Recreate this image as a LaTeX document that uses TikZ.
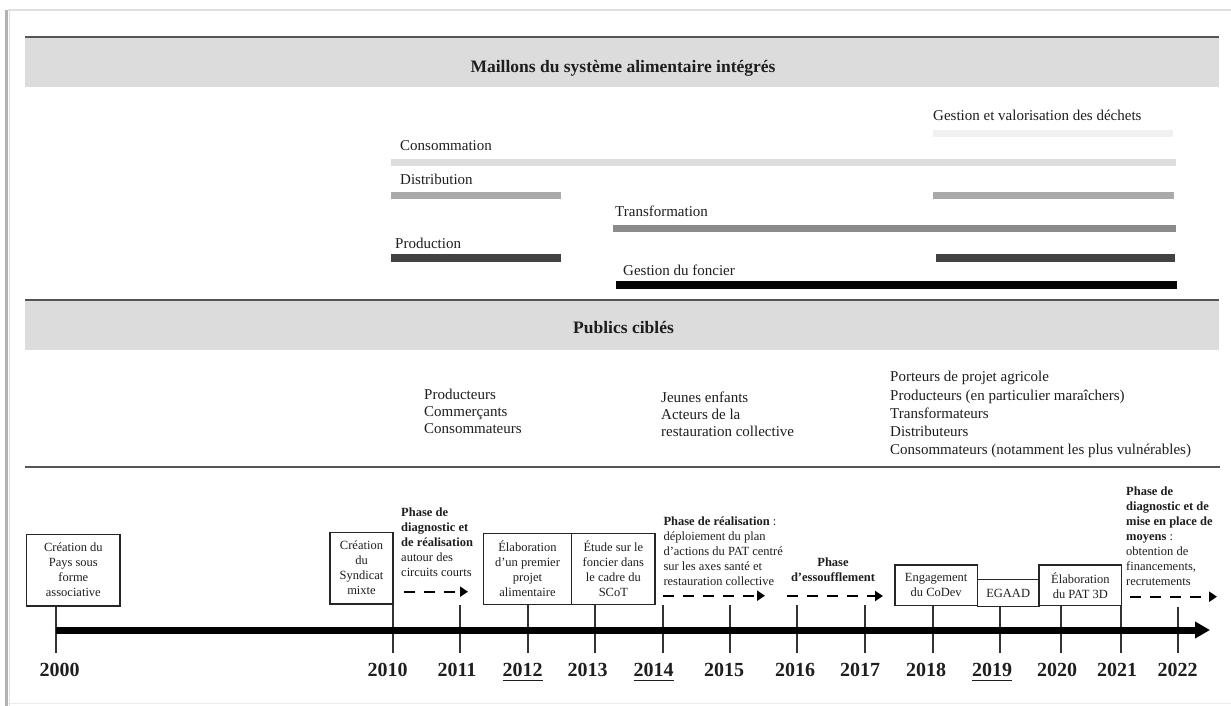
\documentclass[tikz,border=0pt]{standalone}
\usepackage{fontspec}
\setmainfont{Liberation Serif}
\usetikzlibrary{arrows.meta}
\definecolor{bandgray}{HTML}{DCDCDC}
\definecolor{linegray}{HTML}{555555}
\definecolor{txt}{HTML}{1E1E1E}
\definecolor{barA}{HTML}{F1F1F1}
\definecolor{barB}{HTML}{DDDDDD}
\definecolor{barC}{HTML}{A9A9A9}
\definecolor{barD}{HTML}{8A8A8A}
\definecolor{barE}{HTML}{424242}
\definecolor{barF}{HTML}{050505}
\newcommand{\mylines}[2][l]{\begin{tabular}[t]{@{}#1@{}}#2\end{tabular}}
\newcommand{\myul}[1]{\setbox0\hbox{#1}\rlap{\rule[-4.6pt]{\wd0}{1.8pt}}#1}
\tikzset{
  bandfill/.style={fill=bandgray, draw=none},
  bandline/.style={draw=linegray, line width=2pt},
  bartitle/.style={font=\bfseries\fontsize{17.5}{20}\selectfont, anchor=base, inner sep=0pt, text=txt},
  barlbl/.style={font=\fontsize{15}{17}\selectfont, anchor=base west, inner sep=0pt, text=txt},
  barline/.style={line width=7pt},
  publbl/.style={font=\fontsize{15}{17.3}\selectfont, anchor=base west, inner sep=0pt, text=txt},
  publblw/.style={font=\fontsize{15}{18.3}\selectfont, anchor=base west, inner sep=0pt, text=txt},
  evbox/.style={draw=black!85, line width=1.4pt, inner sep=0pt, align=center,
    font=\fontsize{12.5}{15}\selectfont, text=txt},
  phasetxt/.style={font=\fontsize{12.5}{15}\selectfont, anchor=base west, inner sep=0pt, text=txt},
  yearlbl/.style={font=\bfseries\fontsize{20}{24}\selectfont, anchor=base, inner sep=0pt, text=txt},
  tickline/.style={draw=black!80, line width=1.8pt},
  axisline/.style={draw=black, line width=7pt, -{Triangle[length=15pt,width=16pt]}},
  dasharrow/.style={draw=black, line width=2pt, dash pattern=on 11pt off 9pt,
    -{Triangle[length=8pt,width=10pt]}},
}
\begin{document}
\begin{tikzpicture}[x=1pt,y=-1pt]
\useasboundingbox (0,0) rectangle (1231,706);
\fill[white] (0,0) rectangle (1231,706);
% page frame
\draw[black!12, line width=1.5pt] (8,10) -- (1231,10);
\draw[black!30, line width=3pt] (6.5,10) -- (6.5,706);
\draw[black!12, line width=1pt] (9,10) -- (9,706);
\draw[black!8, line width=1pt] (8,703.5) -- (1231,703.5);

% ---- band 1
\fill[bandfill] (25,37) rectangle (1219,87);
\draw[bandline] (25,37) -- (1219,37);
\node[bartitle] (title1) at (623,73) {Maillons du système alimentaire intégrés};

\node[barlbl] (lDech) at (933,120.7) {Gestion et valorisation des déchets};
\draw[barline, barA] (933,133.3) -- (1173,133.3);
\node[barlbl] (lCons) at (400,150) {Consommation};
\draw[barline, barB, line width=6.7pt] (391,162.5) -- (1176,162.5);
\node[barlbl] (lDist) at (400,184) {Distribution};
\draw[barline, barC] (391,195.7) -- (561,195.7);
\draw[barline, barC] (933,195.7) -- (1174,195.7);
\node[barlbl] (lTrans) at (615,216.7) {Transformation};
\draw[barline, barD] (613,228) -- (1176,228);
\node[barlbl] (lProd) at (395,248) {Production};
\draw[barline, barE, line width=7.5pt] (391,258) -- (561,258);
\draw[barline, barE, line width=7.5pt] (936,258) -- (1175,258);
\node[barlbl] (lFonc) at (623,275) {Gestion du foncier};
\draw[barline, barF, line width=8pt] (616,285) -- (1177,285);

% ---- band 2
\fill[bandfill] (25,300) rectangle (1219,350);
\draw[bandline] (25,300) -- (1219,300);
\node[bartitle] (title2) at (623.5,333) {Publics ciblés};

\node[publbl] (pub1) at (424,399.3) {\mylines{Producteurs\\Commerçants\\Consommateurs}};
\node[publbl, font=\fontsize{15}{17}\selectfont] (pub2) at (661,402) {\mylines{Jeunes enfants\\Acteurs de la\\restauration collective}};
\node[publblw] (pub3) at (890,381.7) {\mylines{Porteurs de projet agricole\\Producteurs (en particulier maraîchers)\\Transformateurs\\Distributeurs\\Consommateurs (notamment les plus vulnérables)}};

\draw[bandline] (25,467) -- (1220,467);

% ---- timeline
\coordinate (b2000) at (55.7,653);
\coordinate (b2010) at (393,653);
\coordinate (b2011) at (460,653);
\coordinate (b2012) at (528,653);
\coordinate (b2013) at (595,653);
\coordinate (b2014) at (663,653);
\coordinate (b2015) at (730,653);
\coordinate (b2016) at (797,653);
\coordinate (b2017) at (865,653);
\coordinate (b2018) at (933,653);
\coordinate (b2019) at (1000,653);
\coordinate (b2020) at (1061,653);
\coordinate (b2021) at (1121,653);
\coordinate (b2022) at (1178,653);
\coordinate (t2011) at (460,605);
\coordinate (t2014) at (663,605);
\coordinate (t2015) at (730,605);
\coordinate (t2016) at (797,605);
\coordinate (t2017) at (865,605);
\coordinate (t2021) at (1121,605.7);
\coordinate (t2022) at (1178,606.7);

% event boxes
\node[evbox, minimum width=93.3pt, minimum height=71.7pt] (e2000) at (73.35,570.15)
  {Création du\\Pays sous\\forme\\associative};
\node[evbox, minimum width=63pt, minimum height=71.7pt] (e2010) at (361.5,568.15)
  {Création\\du\\Syndicat\\mixte};
\node[evbox, minimum width=88.4pt, minimum height=71pt] (e2012) at (527.5,568.8)
  {Élaboration\\d’un premier\\projet\\alimentaire};
\node[evbox, minimum width=83.3pt, minimum height=71pt] (e2013) at (613.35,568.8)
  {Étude sur le\\foncier dans\\le cadre du\\SCoT};
\node[evbox, minimum width=82.3pt, minimum height=40.7pt] (e2018) at (936.15,585.35)
  {Engagement\\du CoDev};
\node[evbox, minimum width=61.7pt, minimum height=27.4pt] (e2019) at (1008.15,593)
  {EGAAD};
\node[evbox, minimum width=82.7pt, minimum height=40.7pt] (e2020) at (1080.35,585.35)
  {Élaboration\\du PAT 3D};

% ticks
\draw[tickline] (e2000.south -| b2000) -- (b2000);
\draw[tickline] (e2010.south -| b2010) -- (b2010);
\draw[tickline] (t2011) -- (b2011);
\draw[tickline] (e2012.south -| b2012) -- (b2012);
\draw[tickline] (e2013.south -| b2013) -- (b2013);
\draw[tickline] (t2014) -- (b2014);
\draw[tickline] (t2015) -- (b2015);
\draw[tickline] (t2016) -- (b2016);
\draw[tickline] (t2017) -- (b2017);
\draw[tickline] (e2018.south -| b2018) -- (b2018);
\draw[tickline] (e2019.south -| b2019) -- (b2019);
\draw[tickline] (e2020.south -| b2020) -- (b2020);
\draw[tickline] (t2021) -- (b2021);
\draw[tickline] (t2022) -- (b2022);

% main axis
\coordinate (axs) at (55.7,630);
\coordinate (axe) at (1210,630);
\draw[axisline] (axs) -- (axe);

% phases
\node[phasetxt] (ph1) at (401,516.7) {\mylines{\textbf{Phase de}\\\textbf{diagnostic et}\\\textbf{de réalisation}\\autour des\\circuits courts}};
\coordinate (d1s) at (404,591.7);
\coordinate (d1e) at (468,591.7);
\draw[dasharrow] (d1s) -- (d1e);

\node[phasetxt] (ph2) at (663.3,525) {\mylines{\textbf{Phase de réalisation} :\\déploiement du plan\\d’actions du PAT centré\\sur les axes santé et\\restauration collective}};
\coordinate (d2s) at (663,595.7);
\coordinate (d2e) at (765,595.7);
\draw[dasharrow] (d2s) -- (d2e);

\node[phasetxt, anchor=base] (ph3) at (833,566) {\mylines[c]{\textbf{Phase}\\\textbf{d’essoufflement}}};
\coordinate (d3s) at (787,596);
\coordinate (d3e) at (883,596);
\draw[dasharrow] (d3s) -- (d3e);

\node[phasetxt] (ph4) at (1126,495) {\mylines{\textbf{Phase de}\\\textbf{diagnostic et de}\\\textbf{mise en place de}\\\textbf{moyens} :\\obtention de\\financements,\\recrutements}};
\coordinate (d4s) at (1130,596.7);
\coordinate (d4e) at (1217,596.7);
\draw[dasharrow] (d4s) -- (d4e);

% years
\node[yearlbl] (y2000) at (59.5,676.7) {2000};
\node[yearlbl] (y2010) at (387.5,676.7) {2010};
\node[yearlbl] (y2011) at (457,676.7) {2011};
\node[yearlbl] (y2012) at (522.7,676.7) {\myul{2012}};
\node[yearlbl] (y2013) at (587.5,676.7) {2013};
\node[yearlbl] (y2014) at (653.7,676.7) {\myul{2014}};
\node[yearlbl] (y2015) at (724,676.7) {2015};
\node[yearlbl] (y2016) at (795,676.7) {2016};
\node[yearlbl] (y2017) at (860,676.7) {2017};
\node[yearlbl] (y2018) at (926,676.7) {2018};
\node[yearlbl] (y2019) at (992,676.7) {\myul{2019}};
\node[yearlbl] (y2020) at (1057,676.7) {2020};
\node[yearlbl] (y2021) at (1117,676.7) {2021};
\node[yearlbl] (y2022) at (1177.7,676.7) {2022};
\end{tikzpicture}
\end{document}
